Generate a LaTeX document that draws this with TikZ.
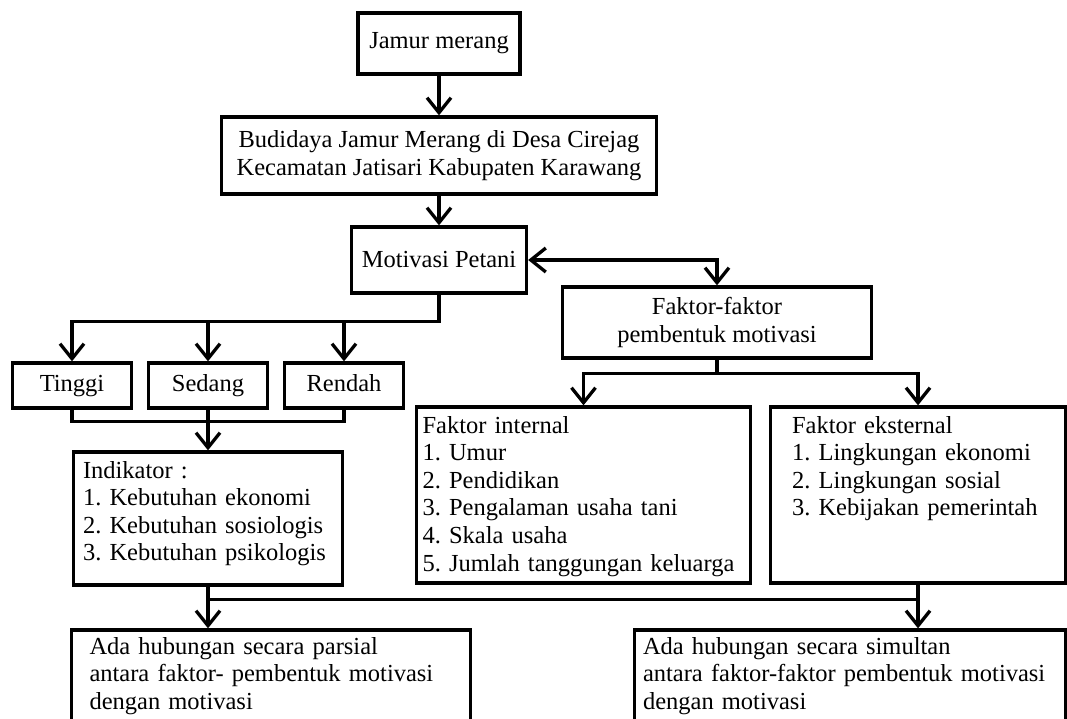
\documentclass[tikz,border=0pt]{standalone}
\usepackage{fontspec}
\setmainfont{Liberation Serif}
\usetikzlibrary{positioning, arrows.meta, calc}
\frenchspacing

\begin{document}
\begin{tikzpicture}[x=1pt, y=1pt, on grid, line width=3.3pt,
        >={Straight Barb[length=15pt, width=24pt]},
        font=\fontsize{24.5pt}{27.6pt}\selectfont,
        box/.style={draw, align=center, inner sep=2pt},
        grade/.style={box, minimum width=119pt, minimum height=45pt, text height=17pt, text depth=5pt},
        list/.style={draw, align=left, inner xsep=0pt, inner ysep=4pt, text height=22pt}]
        \useasboundingbox (0,0) rectangle (1067,-718);

        \node[box, minimum width=162pt, minimum height=61pt] (jm) at (439,-43.5) {Jamur merang};
        \node[box, minimum width=435pt, minimum height=77pt] (bd) [below=112pt of jm]
          {Budidaya Jamur Merang di Desa Cirejag\\Kecamatan Jatisari Kabupaten Karawang};
        \node[box, minimum width=175pt, minimum height=66pt] (mp) [below=104.5pt of bd] {Motivasi Petani};
        \node[box, minimum width=309pt, minimum height=71pt] (fk) [below right=62.5pt and 278pt of mp]
          {Faktor-faktor\\pembentuk motivasi};

        \node[grade] (sd) [below left=125.5pt and 231pt of mp] {Sedang};
        \node[grade] (tg) [left=136pt of sd]  {Tinggi};
        \node[grade] (rd) [right=136pt of sd] {Rendah};

        \node[list, text width=250pt, minimum width=269pt, text depth=103pt] (ind) [below=133pt of sd]
          {Indikator :\\1. Kebutuhan ekonomi\\2. Kebutuhan sosiologis\\3. Kebutuhan psikologis};
        \node[list, text width=322pt, minimum width=334pt, text depth=146pt] (fi) [below left=172.5pt and 133.5pt of fk]
          {Faktor internal\\1. Umur\\2. Pendidikan\\3. Pengalaman usaha tani\\4. Skala usaha\\5. Jumlah tanggungan keluarga};
        \node[list, text width=252pt, minimum width=295pt, text depth=146pt] (fe) [right=334.5pt of fi]
          {Faktor eksternal\\1. Lingkungan ekonomi\\2. Lingkungan sosial\\3. Kebijakan pemerintah};

        \node[list, text width=363pt, minimum width=399pt, text height=20pt, text depth=64pt] (hp) [below right=157.5pt and 63pt of ind]
          {Ada hubungan secara parsial\\antara faktor- pembentuk motivasi\\dengan motivasi};
        \node[list, text width=414pt, minimum width=431pt, text height=20pt, text depth=64pt] (hs) [right=579pt of hp]
          {Ada hubungan secara simultan\\antara faktor-faktor pembentuk motivasi\\dengan motivasi};

        % top chain
        \draw[->] (jm) -- (bd);
        \draw[->] (bd) -- (mp);
        \draw[<->] (mp) -| (fk);

        % motivation levels
        \coordinate (mpj) at ($(mp.south)+(0,-27)$);
        \draw[->] (mp) -- (mpj) -| (tg);
        \draw[->] (mpj -| sd) -- (sd);
        \draw[->] (mpj -| rd) -- (rd);
        \draw (tg.south) -- ++(0,-12) -| (rd.south);
        \draw[->] (sd) -- (ind);

        % factors
        \coordinate (fkj) at ($(fk.south)+(0,-14)$);
        \draw (fk) -- (fkj);
        \draw[->] (fkj) -| (fi);
        \draw[->] (fkj) -| (fe);

        % results
        \coordinate (bj) at ($(ind.south)+(0,-13)$);
        \draw (ind) -- (bj) -| (fe);
        \draw[->] (bj) -- (bj |- hp.north);
        \draw[->] (bj -| fe) -- (fe |- hs.north);
\end{tikzpicture}
\end{document}
